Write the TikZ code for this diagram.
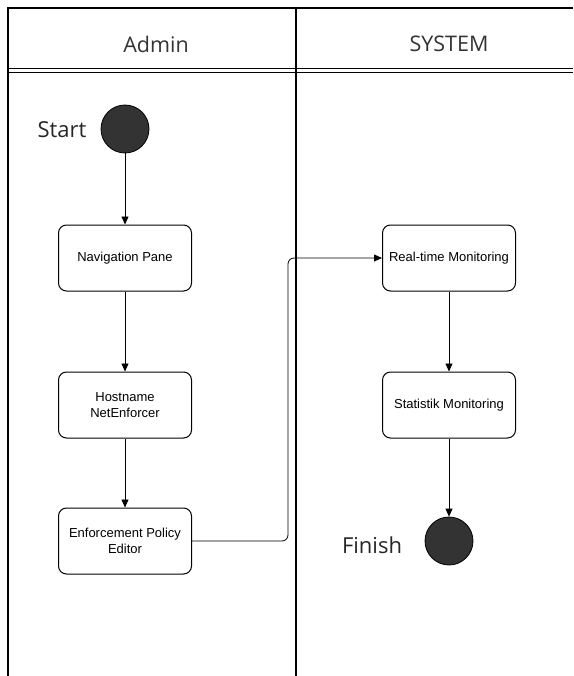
\documentclass[tikz,border=0pt]{standalone}
\usepackage{fontspec}
\setmainfont{Liberation Sans}
\newfontfamily\lanefont{Open Sans}
\usepackage{tikz}
\usetikzlibrary{arrows.meta}

\definecolor{dot}{HTML}{333333}
\definecolor{lanetext}{HTML}{333333}

\begin{document}
\begin{tikzpicture}[x=1pt,y=-1pt,thick,>={Triangle[length=8pt,width=7pt]},
  activity/.style={draw,rounded corners=8pt,minimum width=133pt,minimum height=66pt,align=center,font=\fontsize{13}{16}\selectfont,line width=1pt,inner sep=2pt},
  state/.style={circle,draw,fill=dot,minimum size=48pt,inner sep=0pt},
  lane/.style={font=\lanefont\fontsize{21.5}{24}\selectfont,text=lanetext},
  tag/.style={font=\lanefont\fontsize{22}{24}\selectfont,text=black!85}]
\useasboundingbox (0,0) rectangle (573,676);
% swimlanes
\draw[line width=1.2pt] (573,8) -- (8,8) -- (8,676);
\draw[line width=1.2pt] (296,8) -- (296,676);
\draw[line width=0.9pt] (8,68) -- (573,68);
\draw[line width=0.9pt] (8,72) -- (573,72);
\node[lane] (Admin) at (156,44) {Admin};
\node[lane] (System) at (449,44) {SYSTEM};
% admin side
\node[state] (Start) at (125,129) {};
\node[tag] (StartTag) at (62,130) {Start};
\node[activity] (Nav) at (125,258) {Navigation Pane};
\node[activity] (Host) at (125,405) {Hostname\\NetEnforcer};
\node[activity] (Editor) at (125,541) {Enforcement Policy\\Editor};
% system side
\node[activity] (Realtime) at (449,258) {Real-time Monitoring};
\node[activity] (Statistik) at (449,405) {Statistik Monitoring};
\node[state] (Finish) at (449,541) {};
\node[tag] (FinishTag) at (372,545) {Finish};
\path[->]
(Start) edge (Nav)
(Nav) edge (Host)
(Host) edge (Editor)
(Realtime) edge (Statistik)
(Statistik) edge (Finish);
\draw[->,rounded corners=6pt] (Editor.east) -| (288,400) |- (Realtime.west);
\end{tikzpicture}
\end{document}
